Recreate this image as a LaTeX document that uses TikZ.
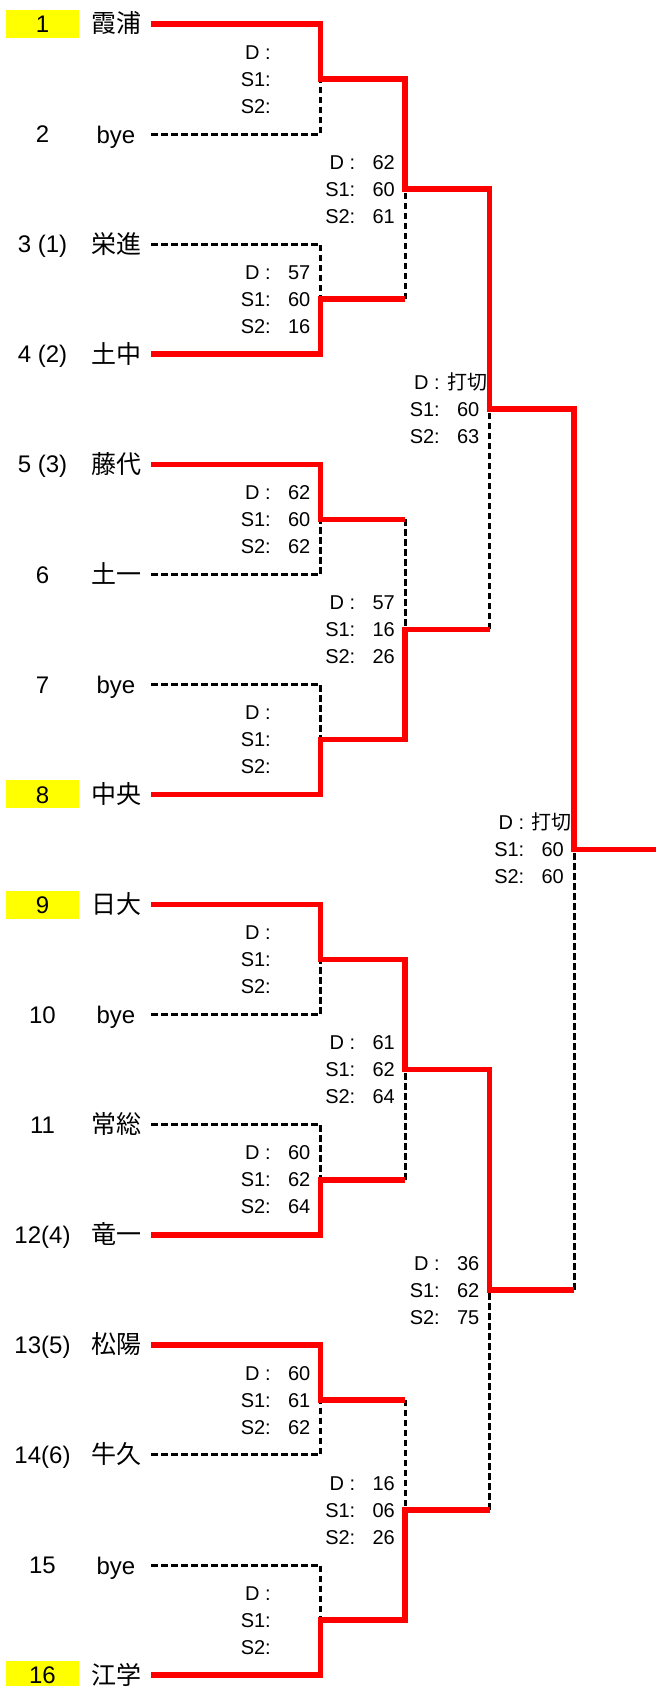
\documentclass[tikz,border=0pt]{standalone}
\usepackage{fontspec}
\setmainfont{Liberation Sans}
\newfontfamily\jp{Noto Sans CJK JP}
\usetikzlibrary{calc}
\definecolor{winred}{RGB}{255,0,0}
\definecolor{hlyellow}{RGB}{255,255,0}
\tikzset{
 num/.style={minimum width=73pt, minimum height=28pt, inner sep=0pt, text height=17.3pt, text depth=0pt, font=\fontsize{24}{24}\selectfont},
 hl/.style={num, fill=hlyellow},
 nm/.style={minimum width=70pt, inner sep=0pt, text height=18pt, text depth=0pt, font=\jp\fontsize{25}{25}\selectfont},
 nmlat/.style={nm, font=\fontsize{24}{24}\selectfont},
 lab/.style={anchor=east, inner sep=0pt, text height=14.4pt, text depth=0pt, font=\fontsize{20}{20}\selectfont},
 cjklab/.style={anchor=west, inner sep=0pt, text height=14.4pt, text depth=0pt, font=\jp\fontsize{20}{20}\selectfont},
 win/.style={draw=winred, line width=5.5pt},
 lose/.style={draw=black, line width=3pt, dash pattern=on 6.5pt off 3.5pt},
}
\newcommand\labelset[1]{%
 \node[lab] (#1-dl) at ([xshift=-49.5pt,yshift=27pt]#1) {D :};
 \node[lab] (#1-s1l) at ([xshift=-49.5pt]#1) {S1:};
 \node[lab] (#1-s2l) at ([xshift=-49.5pt,yshift=-27pt]#1) {S2:};
}
\newcommand\valueset[4]{%
 \node[lab] (#1-dv) at ([xshift=-10pt,yshift=27pt]#1) {#2};
 \node[lab] (#1-s1v) at ([xshift=-10pt]#1) {#3};
 \node[lab] (#1-s2v) at ([xshift=-10pt,yshift=-27pt]#1) {#4};
}
\begin{document}
\begin{tikzpicture}[x=1pt,y=-1pt]
\useasboundingbox (0,0) rectangle (656,1686);
% seeds / numbers
\node[hl]  (n1)  at (42.5,24)      {1};
\node[num] (n2)  at (42.5,134.07)  {2};
\node[num] (n3)  at (42.5,244.14)  {3 (1)};
\node[num] (n4)  at (42.5,354.21)  {4 (2)};
\node[num] (n5)  at (42.5,464.28)  {5 (3)};
\node[num] (n6)  at (42.5,574.35)  {6};
\node[num] (n7)  at (42.5,684.42)  {7};
\node[hl]  (n8)  at (42.5,794.49)  {8};
\node[hl]  (n9)  at (42.5,904.56)  {9};
\node[num] (n10) at (42.5,1014.63) {10};
\node[num] (n11) at (42.5,1124.70) {11};
\node[num] (n12) at (42.5,1234.77) {12(4)};
\node[num] (n13) at (42.5,1344.84) {13(5)};
\node[num] (n14) at (42.5,1454.91) {14(6)};
\node[num] (n15) at (42.5,1564.98) {15};
\node[hl]  (n16) at (42.5,1675.05) {16};
% team names
\node[nm]    (t1)  at (116,24)      {霞浦};
\node[nmlat] (t2)  at (116,134.07)  {bye};
\node[nm]    (t3)  at (116,244.14)  {栄進};
\node[nm]    (t4)  at (116,354.21)  {土中};
\node[nm]    (t5)  at (116,464.28)  {藤代};
\node[nm]    (t6)  at (116,574.35)  {土一};
\node[nmlat] (t7)  at (116,684.42)  {bye};
\node[nm]    (t8)  at (116,794.49)  {中央};
\node[nm]    (t9)  at (116,904.56)  {日大};
\node[nmlat] (t10) at (116,1014.63) {bye};
\node[nm]    (t11) at (116,1124.70) {常総};
\node[nm]    (t12) at (116,1234.77) {竜一};
\node[nm]    (t13) at (116,1344.84) {松陽};
\node[nm]    (t14) at (116,1454.91) {牛久};
\node[nmlat] (t15) at (116,1564.98) {bye};
\node[nm]    (t16) at (116,1675.05) {江学};
% junctions
\coordinate (a1) at (320.5,79.035);
\coordinate (a2) at (320.5,299.175);
\coordinate (a3) at (320.5,519.315);
\coordinate (a4) at (320.5,739.455);
\coordinate (a5) at (320.5,959.595);
\coordinate (a6) at (320.5,1179.735);
\coordinate (a7) at (320.5,1399.875);
\coordinate (a8) at (320.5,1620.015);
\coordinate (b1) at (405,189.105);
\coordinate (b2) at (405,629.385);
\coordinate (b3) at (405,1069.665);
\coordinate (b4) at (405,1509.945);
\coordinate (c1) at (489.5,409.245);
\coordinate (c2) at (489.5,1289.805);
\coordinate (d1) at (574,849.525);
\coordinate (fin) at (656,849.525);
% losing lines
\draw[lose] (t2.east) -| (a1);
\draw[lose] (t3.east) -| (a2);
\draw[lose] (t6.east) -| (a3);
\draw[lose] (t7.east) -| (a4);
\draw[lose] (t10.east) -| (a5);
\draw[lose] (t11.east) -| (a6);
\draw[lose] (t14.east) -| (a7);
\draw[lose] (t15.east) -| (a8);
\draw[lose] (a2 -| b1) -- (b1);
\draw[lose] (a3 -| b2) -- (b2);
\draw[lose] (a6 -| b3) -- (b3);
\draw[lose] (a7 -| b4) -- (b4);
\draw[lose] (b2 -| c1) -- (c1);
\draw[lose] (b4 -| c2) -- (c2);
\draw[lose] (c2 -| d1) -- (d1);
% winning lines
\draw[win] (t1.east) -| (a1) -| (b1) -| (c1) -| (d1) -- (fin);
\draw[win] (t4.east) -| (a2) -- (a2 -| b1);
\draw[win] (t5.east) -| (a3) -- (a3 -| b2);
\draw[win] (t8.east) -| (a4) -| (b2) -- (b2 -| c1);
\draw[win] (t9.east) -| (a5) -| (b3) -| (c2) -- (c2 -| d1);
\draw[win] (t12.east) -| (a6) -- (a6 -| b3);
\draw[win] (t13.east) -| (a7) -- (a7 -| b4);
\draw[win] (t16.east) -| (a8) -| (b4) -- (b4 -| c2);
% score labels
\labelset{a1}\labelset{a2}\labelset{a3}\labelset{a4}
\labelset{a5}\labelset{a6}\labelset{a7}\labelset{a8}
\labelset{b1}\labelset{b2}\labelset{b3}\labelset{b4}
\labelset{c1}\labelset{c2}\labelset{d1}
\valueset{a2}{57}{60}{16}
\valueset{a3}{62}{60}{62}
\valueset{a6}{60}{62}{64}
\valueset{a7}{60}{61}{62}
\valueset{b1}{62}{60}{61}
\valueset{b2}{57}{16}{26}
\valueset{b3}{61}{62}{64}
\valueset{b4}{16}{06}{26}
\node[cjklab] (c1-dv) at ([xshift=-42.5pt,yshift=27pt]c1) {打切};
\node[lab] (c1-s1v) at ([xshift=-10pt]c1) {60};
\node[lab] (c1-s2v) at ([xshift=-10pt,yshift=-27pt]c1) {63};
\valueset{c2}{36}{62}{75}
\node[cjklab] (d1-dv) at ([xshift=-42.5pt,yshift=27pt]d1) {打切};
\node[lab] (d1-s1v) at ([xshift=-10pt]d1) {60};
\node[lab] (d1-s2v) at ([xshift=-10pt,yshift=-27pt]d1) {60};
\end{tikzpicture}
\end{document}
